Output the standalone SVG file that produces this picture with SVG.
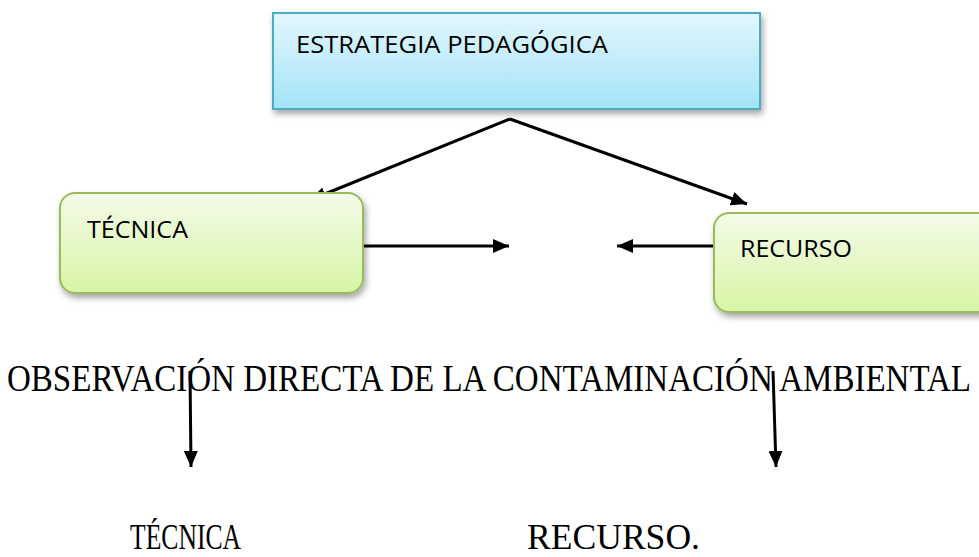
<svg xmlns="http://www.w3.org/2000/svg" width="979" height="557" viewBox="0 0 979 557">
<style>
.calibri{font-family:"Open Sans","Liberation Sans",sans-serif;fill:#000}
.times{font-family:"Liberation Serif","Times New Roman",serif;fill:#000}
.conn{stroke:#000;stroke-width:3;fill:none}
.green{fill:url(#gGreen);stroke:#9bbb59;stroke-width:2}
.blue{fill:url(#gBlue);stroke:#4bacc6;stroke-width:2}
</style>
<defs>
<linearGradient id="gBlue" x1="0" y1="0" x2="0" y2="1">
<stop offset="0" stop-color="#e3f7fe"/>
<stop offset="1" stop-color="#a3e3f8"/>
</linearGradient>
<linearGradient id="gGreen" x1="0" y1="0" x2="0" y2="1">
<stop offset="0" stop-color="#f4fbe9"/>
<stop offset="1" stop-color="#d7f5a6"/>
</linearGradient>
<filter id="sh" x="-10%" y="-10%" width="130%" height="140%">
<feDropShadow dx="2" dy="4" stdDeviation="3" flood-color="#000" flood-opacity="0.35"/>
</filter>
<marker id="a2" viewBox="0 0 16 14" refX="16" refY="7" markerWidth="16" markerHeight="14" markerUnits="userSpaceOnUse" orient="auto">
<path d="M0,0 L16,7 L0,14 Z" fill="#000"/>
</marker>
</defs>
<g id="connectors">
<line class="conn" x1="510" y1="119" x2="310" y2="200" marker-end="url(#a2)"/>
<line class="conn" x1="510" y1="119" x2="747" y2="204" marker-end="url(#a2)"/>
<line class="conn" x1="363" y1="246" x2="509" y2="246" marker-end="url(#a2)"/>
<line class="conn" x1="714" y1="246" x2="617" y2="246" marker-end="url(#a2)"/>
<line class="conn" x1="190" y1="371" x2="191" y2="467" marker-end="url(#a2)"/>
<line class="conn" x1="773" y1="371" x2="776" y2="467" marker-end="url(#a2)"/>
</g>
<g id="estrategia">
<rect class="blue" x="273" y="13" width="487" height="96" filter="url(#sh)"/>
<text class="calibri" x="296" y="53" font-size="23" textLength="312" lengthAdjust="spacingAndGlyphs">ESTRATEGIA PEDAGÓGICA</text>
</g>
<g id="tecnica">
<rect class="green" x="60" y="193" width="303" height="100" rx="15" filter="url(#sh)"/>
<text class="calibri" x="87" y="238" font-size="23" textLength="101" lengthAdjust="spacingAndGlyphs">TÉCNICA</text>
</g>
<g id="recurso">
<rect class="green" x="714" y="213" width="290" height="99" rx="15" filter="url(#sh)"/>
<text class="calibri" x="740" y="257" font-size="23" textLength="112" lengthAdjust="spacingAndGlyphs">RECURSO</text>
</g>
<g id="observacion">
<text class="times" x="7" y="0" transform="translate(0,391) scale(1,1.12)" font-size="33" textLength="964" lengthAdjust="spacingAndGlyphs">OBSERVACIÓN DIRECTA DE LA CONTAMINACIÓN AMBIENTAL</text>
</g>
<g id="tecnica2">
<text class="times" x="130" y="549" font-size="36" textLength="111" lengthAdjust="spacingAndGlyphs">TÉCNICA</text>
</g>
<g id="recurso2">
<text class="times" x="527" y="549" font-size="36" textLength="173" lengthAdjust="spacingAndGlyphs">RECURSO.</text>
</g>
</svg>
